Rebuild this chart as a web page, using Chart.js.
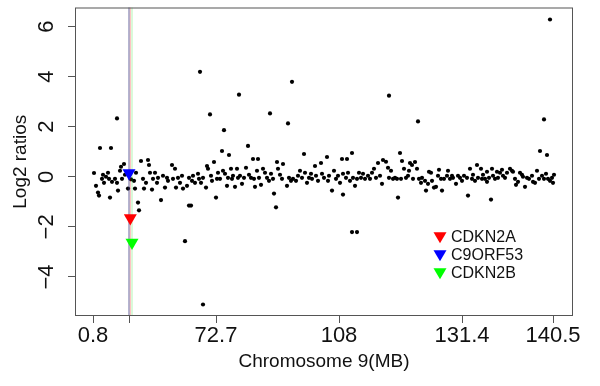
<!DOCTYPE html>
<html>
<head>
<meta charset="utf-8">
<script src="https://cdn.jsdelivr.net/npm/chart.js@4.4.1/dist/chart.umd.min.js"></script>
<style>
  html, body { margin: 0; padding: 0; background: #fff; }
</style>
</head>
<body>
<canvas id="cnv" width="600" height="386"></canvas>
<script>
// probe index along chromosome 9 and its log2 ratio
const probeIdx = [
  1, 3, 5, 6, 7, 9, 10, 11, 13, 15, 16, 17, 18, 19, 22, 24, 24, 25, 27, 28,
  29, 31, 32, 35, 37, 38, 41, 42, 43, 45, 46, 48, 50, 51, 53, 55, 56, 57, 59, 60,
  62, 64, 65, 68, 70, 72, 74, 75, 79, 80, 82, 83, 85, 87, 89, 90, 92, 94, 96, 96,
  98, 99, 100, 102, 105, 106, 107, 108, 110, 110, 113, 114, 115, 117, 118, 119, 121, 123, 124, 125,
  127, 129, 130, 131, 132, 134, 135, 136, 138, 139, 140, 142, 144, 145, 146, 147, 149, 151, 153, 155,
  156, 158, 160, 161, 162, 164, 165, 166, 168, 170, 172, 174, 176, 177, 178, 180, 181, 183, 184, 185,
  187, 189, 190, 194, 195, 196, 198, 199, 200, 203, 205, 207, 209, 211, 212, 214, 216, 218, 219, 222,
  223, 225, 228, 229, 231, 234, 235, 236, 239, 241, 243, 245, 247, 249, 250, 250, 253, 254, 255, 257,
  259, 259, 260, 262, 264, 264, 266, 268, 270, 272, 275, 277, 279, 281, 283, 285, 287, 289, 290, 293,
  295, 296, 296, 298, 300, 302, 304, 305, 307, 308, 309, 311, 313, 315, 316, 317, 319, 320, 322, 324,
  325, 326, 328, 329, 332, 333, 335, 336, 338, 339, 341, 343, 345, 346, 348, 349, 351, 354, 355, 357,
  359, 360, 363, 365, 367, 369, 371, 374, 375, 377, 379, 380, 382, 384, 385, 388, 389, 390, 392, 394,
  394, 396, 398, 399, 400, 402, 404, 405, 407, 409, 410, 412, 414, 417, 419, 420, 422, 423, 425, 427,
  429, 430, 432, 434, 436, 439, 440, 442, 444, 446, 447, 449, 451, 451, 453, 454, 455, 457, 457, 459,
  460, 461
];
const log2Ratio = [
  0.15, -0.36, -0.63, -0.75, 1.15, -0.08, 0.08, -0.24, 0, 0.16, -0.08, -0.83, 1.15, -0.2, -0.08, 2.33, -0.24, -0.55, 0.24, 0.4,
  -0.08, 0.51, 0.08, -0.47, 0.12, -0.1, -0.16, -0.47, 0.16, -1.03, -1.34, 0.63, -0.08, -0.47, -0.24, 0.67, 0.47, 0.16, -0.51, -0.08,
  0.16, -0.24, -0.04, -0.93, 0.04, -0.43, -0.04, -0.16, 0.47, -0.08, 0.32, -0.43, -0.04, -0.24, 0.04, -0.47, -2.57, -0.36, -0.04, -1.15,
  -1.15, -0.16, 0.04, -0.24, 0.12, -0.08, 4.19, -0.24, -0.04, -5.1, -0.43, 0.43, 0.32, 2.49, 0.04, -0.16, 0.59, -0.83, -0.08, 0.16,
  -0.08, 1.03, 0.24, 1.86, 0.12, -0.36, -0.04, 0.87, 0.32, -0.08, 0.04, -0.4, 0.32, -0.04, 3.28, 0.04, -0.28, -0.04, 0.36, 1.23,
  0.08, -0.04, 0.71, -0.08, -0.4, 0.24, 0.71, -0.04, -0.32, 0.32, 0.16, -0.04, -0.16, 2.53, 0.12, -0.08, -0.67, -1.22, 0.59, 0.32,
  0.08, -0.08, 0.51, -0.36, 2.13, -0.04, -0.16, 3.79, -0.08, -0.16, 0.04, 0.24, -0.04, 0.91, 0.16, -0.24, -0.04, 0.12, -0.08, 0.43,
  0.04, -0.16, 0.55, 0.12, -0.04, 0.79, -0.16, 0.04, -0.55, 0.24, -0.08, 0.04, -0.24, 0.71, -0.71, 0.12, -0.04, 0.71, 0.16, -0.16,
  0.95, -2.21, -0.04, -0.36, -2.21, -0.08, 0.16, -0.04, 0.12, -0.08, 0.04, -0.08, 0.16, 0.32, -0.04, 0.55, 0.04, -0.28, 0.67, 0.6,
  0.36, 3.24, -0.04, 0.24, -0.08, -0.04, -0.08, -0.83, 0.95, -0.08, 0.63, 0.32, -0.04, 0.04, 0.24, 0.55, 0.47, -0.08, 0.59, 0.32,
  2.21, -0.08, -0.24, -0.04, -0.16, -0.55, -0.28, 0.2, 0.16, -0.16, -0.43, -0.4, 0.04, 0.28, -0.08, -0.55, -0.08, 0.04, 0.24, -0.08,
  0.04, -0.04, -0.28, 0.04, -0.04, -0.16, 0.04, -0.04, -0.75, 0.32, -0.08, 0.08, -0.16, 0.47, -0.04, 0.32, -0.08, 0.08, -0.08, 0.2,
  -0.2, -0.04, -0.91, 0.32, 0.04, -0.08, 0.2, -0.04, 0.16, 0.28, 0.04, -0.04, 0.16, 0.32, 0.24, 0.2, -0.08, -0.32, -0.2, 0.16,
  0.08, 0, -0.4, -0.04, -0.08, 0.04, -0.2, -0.24, 0.24, -0.08, 1.03, 0.04, 2.29, -0.08, 0.12, 0.87, -0.08, 6.28, -0.16, -0.04,
  -0.24, 0.08
];

// axis ticks
const xTickIdx = [0, 36, 123, 246, 369, 460];
const xTickLabels = ['0.8', '', '72.7', '108', '131.4', '140.5'];
const yTicks = [-4, -2, 0, 2, 4, 6];

// genes of interest
const genes = ['CDKN2A', 'C9ORF53', 'CDKN2B'];
const geneIdx = [37.3, 36, 39];
const geneRatio = [-1.65, 0.15, -2.62];
const geneColors = ['#ff0000', '#0000ff', '#00ff00'];
const geneLineColors = ['rgba(255,0,0,0.3)', 'rgba(0,0,255,0.3)', 'rgba(0,220,0,0.3)'];
const regionIdx = 36;
const legendAt = [347, -2.4];

const FONT = "'Liberation Sans', Arial, sans-serif";

const vline = (x, color) => ({
  type: 'line',
  data: [{ x: x, y: -100 }, { x: x, y: 100 }],
  borderColor: color,
  borderWidth: 1,
  pointRadius: 0,
});

// R 스타일 박스, 세로 눈금 라벨, 범례
const rStyle = {
  id: 'rStyle',
  afterDraw(chart) {
    const { ctx, chartArea: a, scales } = chart;
    ctx.save();
    ctx.strokeStyle = '#555';
    ctx.lineWidth = 1;
    ctx.strokeRect(a.left + 0.5, a.top + 0.5, a.right - a.left - 1, a.bottom - a.top - 1);

    ctx.fillStyle = '#111';
    ctx.font = '22px ' + FONT;
    ctx.textAlign = 'center';
    ctx.textBaseline = 'middle';
    yTicks.forEach(v => {
      ctx.save();
      ctx.translate(47, scales.y.getPixelForValue(v));
      ctx.rotate(-Math.PI / 2);
      ctx.fillText(String(v).replace('-', '\u2212'), 0, 0);
      ctx.restore();
    });

    const lx = scales.x.getPixelForValue(legendAt[0]);
    const ly = scales.y.getPixelForValue(legendAt[1]);
    ctx.font = '16px ' + FONT;
    ctx.textAlign = 'left';
    genes.forEach((g, i) => {
      const y = ly + i * 18;
      ctx.fillStyle = geneColors[i];
      ctx.beginPath();
      ctx.moveTo(lx - 6.5, y - 4.5);
      ctx.lineTo(lx + 6.5, y - 4.5);
      ctx.lineTo(lx, y + 6.5);
      ctx.closePath();
      ctx.fill();
      ctx.fillStyle = '#111';
      ctx.fillText(g, lx + 11, y + 1);
    });
    ctx.restore();
  }
};

new Chart(document.getElementById('cnv'), {
  type: 'scatter',
  data: {
    datasets: [
      {
        data: geneIdx.map((x, i) => ({ x: x, y: geneRatio[i] })),
        pointStyle: 'triangle',
        rotation: 180,
        pointRadius: 7.5,
        backgroundColor: geneColors,
        borderWidth: 0,
      },
      vline(regionIdx, 'rgba(70,70,70,0.5)'),
      ...geneIdx.map((x, i) => vline(x, geneLineColors[i])),
      {
        data: probeIdx.map((x, i) => ({ x: x, y: log2Ratio[i] })),
        pointRadius: 2.1,
        backgroundColor: '#000',
        borderWidth: 0,
      },
    ],
  },
  options: {
    responsive: false,
    animation: false,
    layout: { padding: { top: 6, right: 27, left: 0, bottom: 0 } },
    plugins: { legend: { display: false }, tooltip: { enabled: false } },
    scales: {
      x: {
        type: 'linear', min: -18, max: 480,
        afterBuildTicks: s => { s.ticks = xTickIdx.map(v => ({ value: v })); },
        afterFit: s => { s.height = 70; },
        border: { display: false },
        grid: { drawOnChartArea: false, drawTicks: true, tickLength: 7, color: '#555' },
        ticks: {
          autoSkip: false, maxRotation: 0, minRotation: 0, padding: 0, color: '#111',
          font: { family: FONT, size: 22 },
          callback: (v, i) => xTickLabels[i],
        },
        title: { display: true, text: 'Chromosome 9(MB)', color: '#111', font: { family: FONT, size: 19 }, padding: { top: 0, bottom: 13 } },
      },
      y: {
        min: -5.56, max: 6.76,
        afterBuildTicks: s => { s.ticks = yTicks.map(v => ({ value: v })); },
        afterFit: s => { s.width = 75; },
        border: { display: false },
        grid: { drawOnChartArea: false, drawTicks: true, tickLength: 7, color: '#555' },
        ticks: { display: false },
        title: { display: true, text: 'Log2 ratios', color: '#111', font: { family: FONT, size: 19 }, padding: { top: 9, bottom: 0 } },
      },
    },
  },
  plugins: [rStyle],
});
</script>
</body>
</html>
